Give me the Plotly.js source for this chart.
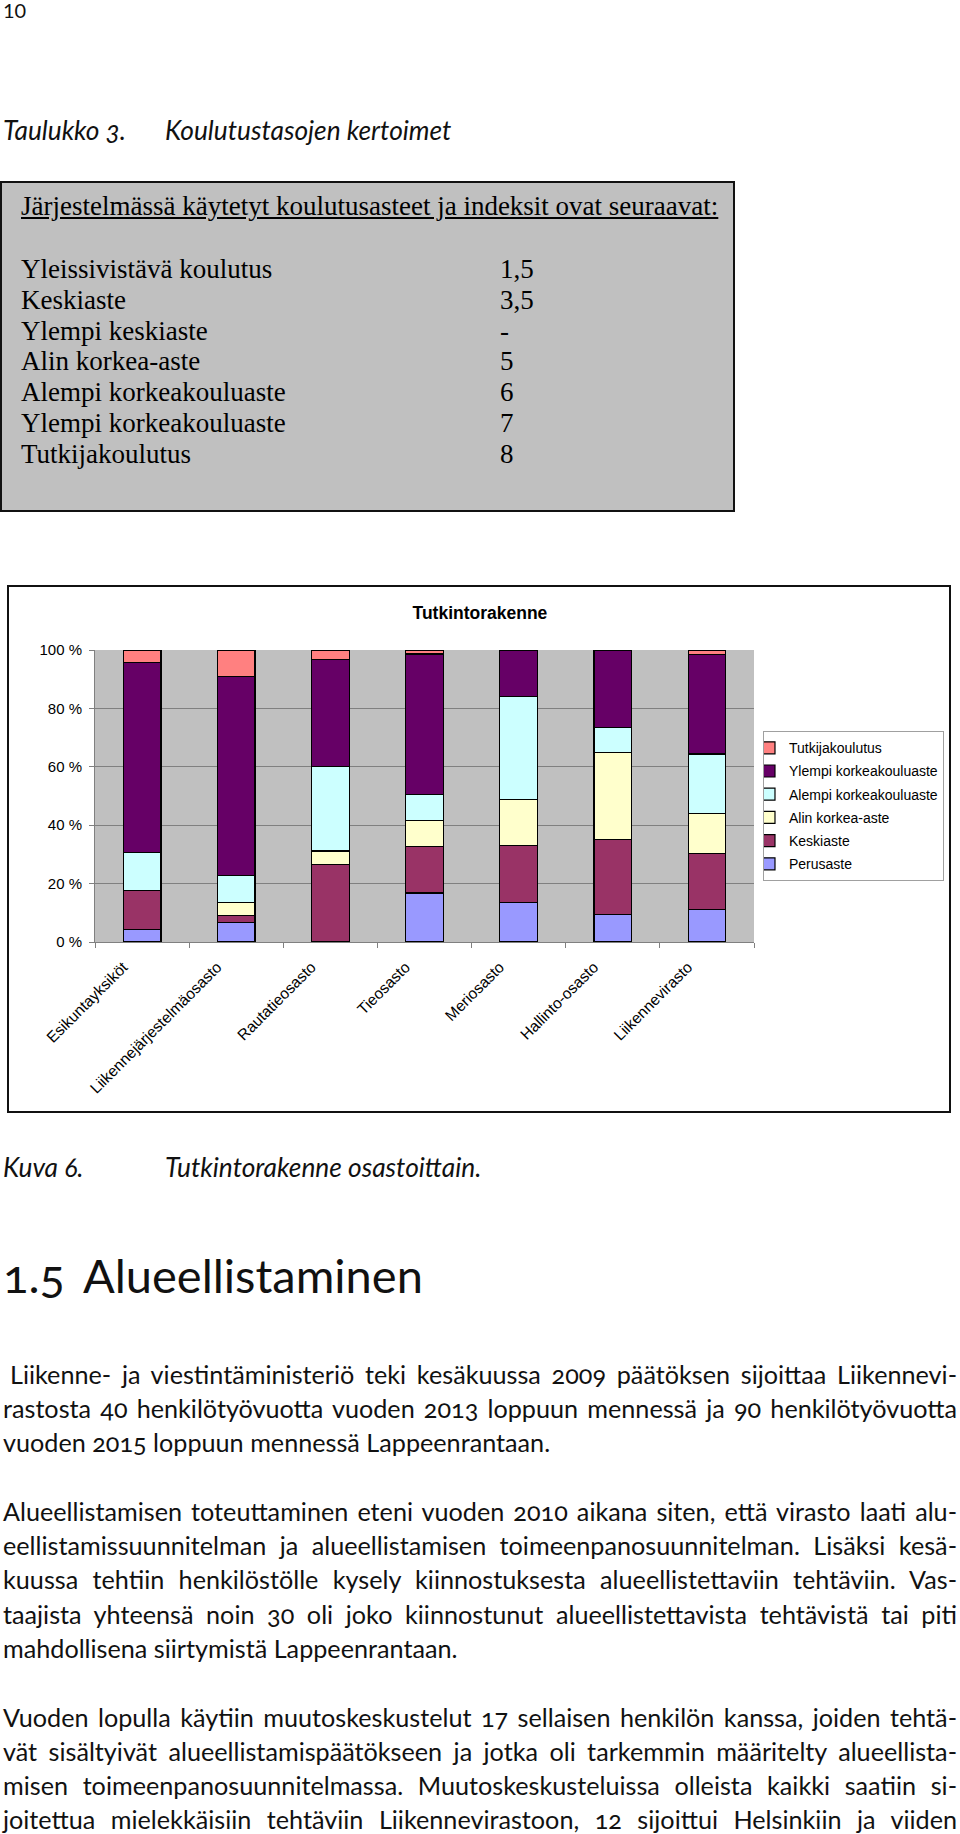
<!DOCTYPE html>
<html>
<head>
<meta charset="utf-8">
<script src="https://cdn.plot.ly/plotly-3.0.1.min.js"></script>
<style>
  html, body { margin:0; padding:0; background:#fff; }
  body { width:960px; height:1834px; position:relative; overflow:hidden; }
  .t { position:absolute; white-space:nowrap; color:#111; }
  .sans { font-family: Lato, "Open Sans", sans-serif; font-variant-numeric: oldstyle-nums; }
  .body { font-size:25.2px; line-height:34px; left:3px; }
  .cap { font-size:26.3px; line-height:34px; font-style:italic; }
  .serif { font-family: "Liberation Serif", "Times New Roman", serif; font-size:27px; line-height:30px; color:#000; }
  #box { position:absolute; left:0px; top:181px; width:731px; height:327px; background:#c0c0c0; border:2px solid #111; }
  #chartwrap { position:absolute; left:7px; top:585px; width:940px; height:524px; border:2px solid #111; background:#fff; }
</style>
</head>
<body>
<div class="t sans" style="left:3px; top:-2px; font-size:20px; line-height:24px; font-variant-numeric:lining-nums;">10</div>

<div class="t sans cap" style="left:3px; top:113px;">Taulukko 3.</div>
<div class="t sans cap" style="left:165px; top:113px;">Koulutustasojen kertoimet</div>

<div id="box"></div>
<div class="t serif" style="left:21px; top:191px; text-decoration:underline;">Järjestelmässä käytetyt koulutusasteet ja indeksit ovat seuraavat:</div>
<div class="t serif" style="left:21px; top:254px;">Yleissivistävä koulutus</div><div class="t serif" style="left:500px; top:254px;">1,5</div>
<div class="t serif" style="left:21px; top:285px;">Keskiaste</div><div class="t serif" style="left:500px; top:285px;">3,5</div>
<div class="t serif" style="left:21px; top:316px;">Ylempi keskiaste</div><div class="t serif" style="left:500px; top:316px;">-</div>
<div class="t serif" style="left:21px; top:346px;">Alin korkea-aste</div><div class="t serif" style="left:500px; top:346px;">5</div>
<div class="t serif" style="left:21px; top:377px;">Alempi korkeakouluaste</div><div class="t serif" style="left:500px; top:377px;">6</div>
<div class="t serif" style="left:21px; top:408px;">Ylempi korkeakouluaste</div><div class="t serif" style="left:500px; top:408px;">7</div>
<div class="t serif" style="left:21px; top:439px;">Tutkijakoulutus</div><div class="t serif" style="left:500px; top:439px;">8</div>

<div id="chartwrap"><div id="chart"></div></div>

<div class="t sans cap" style="left:3px; top:1150px;">Kuva 6.</div>
<div class="t sans cap" style="left:165px; top:1150px;">Tutkintorakenne osastoittain.</div>

<div class="t sans" style="left:3px; top:1247px; font-size:47px; line-height:56px;">1.5</div>
<div class="t sans" style="left:83px; top:1247px; font-size:47px; line-height:56px;">Alueellistaminen</div>

<div class="t sans body j" style="left:10px; top:1357px;" data-w="947">Liikenne- ja viestintäministeriö teki kesäkuussa 2009 päätöksen sijoittaa Liikennevi-</div>
<div class="t sans body j" style="top:1391px;" data-w="954">rastosta 40 henkilötyövuotta vuoden 2013 loppuun mennessä ja 90 henkilötyövuotta</div>
<div class="t sans body" style="top:1425px;">vuoden 2015 loppuun mennessä Lappeenrantaan.</div>

<div class="t sans body j" style="top:1494px;" data-w="954">Alueellistamisen toteuttaminen eteni vuoden 2010 aikana siten, että virasto laati alu-</div>
<div class="t sans body j" style="top:1528px;" data-w="954">eellistamissuunnitelman ja alueellistamisen toimeenpanosuunnitelman. Lisäksi kesä-</div>
<div class="t sans body j" style="top:1562px;" data-w="954">kuussa tehtiin henkilöstölle kysely kiinnostuksesta alueellistettaviin tehtäviin. Vas-</div>
<div class="t sans body j" style="top:1597px;" data-w="954">taajista yhteensä noin 30 oli joko kiinnostunut alueellistettavista tehtävistä tai piti</div>
<div class="t sans body" style="top:1631px;">mahdollisena siirtymistä Lappeenrantaan.</div>

<div class="t sans body j" style="top:1700px;" data-w="954">Vuoden lopulla käytiin muutoskeskustelut 17 sellaisen henkilön kanssa, joiden tehtä-</div>
<div class="t sans body j" style="top:1734px;" data-w="954">vät sisältyivät alueellistamispäätökseen ja jotka oli tarkemmin määritelty alueellista-</div>
<div class="t sans body j" style="top:1768px;" data-w="954">misen toimeenpanosuunnitelmassa. Muutoskeskusteluissa olleista kaikki saatiin si-</div>
<div class="t sans body j" style="top:1802px;" data-w="954">joitettua mielekkäisiin tehtäviin Liikennevirastoon, 12 sijoittui Helsinkiin ja viiden</div>

<script>
// justify each full line to its target width
document.querySelectorAll('.j').forEach(function(el){
  var target = parseFloat(el.getAttribute('data-w'));
  var w = el.getBoundingClientRect().width;
  var n = (el.textContent.match(/ /g) || []).length;
  if (n > 0) el.style.wordSpacing = ((target - w) / n) + 'px';
});

// ---- chart data ----
var categories = ['Esikuntayksiköt','Liikennejärjestelmäosasto','Rautatieosasto','Tieosasto','Meriosasto','Hallinto-osasto','Liikennevirasto'];
var perusaste    = [4.4, 6.8, 0.0, 16.8, 13.6, 9.5, 11.1];
var keskiaste    = [13.2, 2.2, 26.6, 15.8, 19.5, 25.6, 19.1];
var alinKorkea   = [0.0, 4.6, 4.6, 9.0, 15.8, 29.8, 13.7];
var alempiKork   = [13.1, 9.2, 28.8, 8.9, 35.1, 8.5, 20.5];
var ylempiKork   = [64.9, 68.2, 36.7, 48.1, 16.0, 26.6, 34.0];
var tutkija      = [4.4, 9.0, 3.3, 1.4, 0.0, 0.0, 1.6];
var seriesNames  = ['Perusaste','Keskiaste','Alin korkea-aste','Alempi korkeakouluaste','Ylempi korkeakouluaste','Tutkijakoulutus'];
var seriesColors = ['#9999FF','#993366','#FFFFCC','#CCFFFF','#660066','#FF8080'];
var yTicks = [0, 20, 40, 60, 80, 100];
var yTickText = ['0 %', '20 %', '40 %', '60 %', '80 %', '100 %'];

var seriesValues = [perusaste, keskiaste, alinKorkea, alempiKork, ylempiKork, tutkija];
var traces = seriesValues.map(function(vals, i){
  return {
    type:'bar', x:categories, y:vals, name:seriesNames[i], legendgroup:'g'+i,
    legendrank: seriesValues.length - i,
    marker:{color:seriesColors[i], line:{color:'#000', width:1.2}},
    hoverinfo:'skip'
  };
});

var fontFam = '"Liberation Sans", Arial, sans-serif';
var layout = {
  width:940, height:524,
  margin:{l:86, r:195, t:63, b:169, autoexpand:false},
  paper_bgcolor:'#fff', plot_bgcolor:'#c0c0c0',
  barmode:'stack', bargap:0.6,
  font:{family:fontFam, color:'#000', size:14.5},
  title:{text:'<b>Tutkintorakenne</b>', font:{family:fontFam, size:17.5, color:'#000'},
         xref:'container', yref:'container', x:0.501, y:0.951, xanchor:'center', yanchor:'middle'},
  xaxis:{type:'category', tickangle:-45, tickfont:{size:15.5}, ticks:'outside', tickson:'boundaries',
         ticklen:5, tickcolor:'#808080', showline:true, linecolor:'#808080', linewidth:1,
         showgrid:false, fixedrange:true, ticklabelshift:-19, ticklabelstandoff:9},
  yaxis:{range:[0,100], tickmode:'array', tickvals:yTicks, ticktext:yTickText, tickfont:{size:15}, ticks:'outside', ticklen:5,
         tickcolor:'#808080', showline:true, linecolor:'#808080', gridcolor:'#808080', gridwidth:1,
         zeroline:false, ticklabelstandoff:4, fixedrange:true},
  showlegend:true,
  legend:{x:1.2883, y:0.722, xanchor:'right', yanchor:'top', bgcolor:'#fff', bordercolor:'#a0a0a0', borderwidth:1,
          font:{size:14, family:fontFam}, traceorder:'grouped', tracegroupgap:2, indentation:-15}
};
Plotly.newPlot('chart', traces, layout, {staticPlot:true, displayModeBar:false});
</script>
</body>
</html>
